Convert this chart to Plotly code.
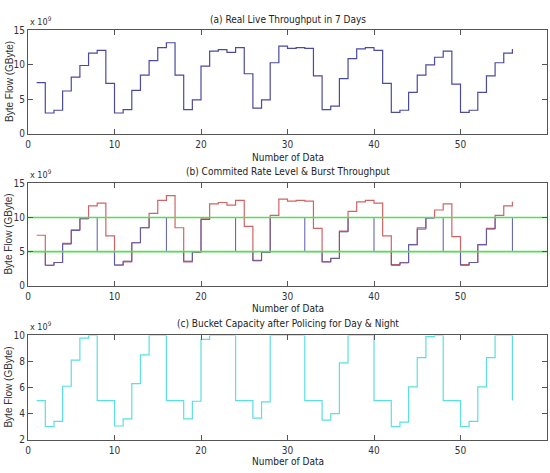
import plotly.graph_objects as go
from plotly.subplots import make_subplots

# Data (values in units of 1e9 bytes)
x_index = list(range(1, 57))
throughput = [7.4, 3.0, 3.4, 6.2, 8.2, 9.9, 11.7, 12.1, 7.3, 3.0,
              3.5, 6.3, 8.5, 10.6, 12.5, 13.2, 8.5, 3.5, 4.9, 9.8,
              12.0, 12.2, 11.8, 12.5, 8.7, 3.7, 4.9, 10.3, 12.7, 12.4,
              12.5, 12.4, 8.4, 3.5, 4.0, 8.0, 10.9, 12.3, 12.5, 12.1,
              7.3, 3.1, 3.4, 6.0, 8.5, 10.0, 11.1, 12.0, 7.2, 3.1,
              3.4, 6.0, 8.4, 10.3, 11.7, 12.3]
bucket = [5.0, 3.0, 3.4, 6.1, 8.1, 9.8, 10, 5, 5, 3.05,
          3.6, 6.3, 8.5, 10, 10, 5, 5, 3.6, 4.95, 9.7,
          10, 10, 10, 5, 5, 3.65, 4.9, 10, 10, 10,
          10, 5, 5, 3.5, 4.0, 7.9, 10, 10, 10, 5,
          5, 3.0, 3.35, 6.05, 8.3, 9.9, 10, 5, 5, 3.0,
          3.4, 6.05, 8.3, 10, 10, 5]
burst_level = 10
committed_level = 5
level_x = [0, 60]

titles = ["(a) Real Live Throughput in 7 Days",
          "(b) Commited Rate Level & Burst Throughput",
          "(c) Bucket Capacity after Policing for Day & Night"]
xlabel = "Number of Data"
ylabel = "Byte Flow (GByte)"

BLUE = "#4a4a9e"
BLUE_B = "#5a5aa8"
RED = "#d06464"
GREEN = "#55dd55"
CYAN = "#5cdfdf"

fig = make_subplots(rows=3, cols=1)

# (a)
fig.add_trace(go.Scatter(x=x_index, y=throughput, mode="lines", line_shape="hv",
                         line=dict(color=BLUE, width=1.2)), row=1, col=1)
# (b)
fig.add_trace(go.Scatter(x=x_index, y=throughput, mode="lines", line_shape="hv",
                         line=dict(color=RED, width=1.2)), row=2, col=1)
fig.add_trace(go.Scatter(x=x_index, y=bucket, mode="lines", line_shape="hv",
                         line=dict(color=BLUE_B, width=1.0)), row=2, col=1)
for lv in [burst_level, committed_level]:
    fig.add_trace(go.Scatter(x=level_x, y=[lv, lv], mode="lines",
                             line=dict(color=GREEN, width=1.6)), row=2, col=1)
# (c)
fig.add_trace(go.Scatter(x=x_index, y=bucket, mode="lines", line_shape="hv",
                         line=dict(color=CYAN, width=1.2)), row=3, col=1)

H = 473.0
W_PLOT = 550 - 28 - 3
panels = [(25, 131), (182, 287), (338, 445)]
title_y = [14, 170, 326]
xlabel_y = [155, 310, 467]
yranges = [[0, 15], [0, 15], [2, 10]]
ydticks = [5, 5, 2]

narrow = "Liberation Sans Narrow, DejaVu Sans Condensed, Arial Narrow, sans-serif"
tickfont = dict(family=narrow, size=10, color="#333333")

annotations = []
for i, (top, bot) in enumerate(panels):
    n = i + 1
    axis_common = dict(showline=True, linecolor="#555555", linewidth=1, mirror="allticks",
                       ticks="inside", ticklen=5, tickcolor="#555555", showgrid=False,
                       zeroline=False, tickfont=tickfont, layer="above traces")
    fig.update_xaxes(range=[0, 60], dtick=10, tick0=0, row=n, col=1,
                     ticklabelstandoff=1, **axis_common)
    fig.update_yaxes(range=yranges[i], dtick=ydticks[i], tick0=0, row=n, col=1,
                     ticklabelstandoff=0,
                     domain=[(H - bot) / H, (H - top) / H], **axis_common)
    annotations.append(dict(text=titles[i], x=0.5, y=(H - title_y[i]) / H, xref="paper", yref="paper",
                            showarrow=False, xanchor="center", yanchor="middle",
                            font=dict(family=narrow, size=10, color="#222222")))
    annotations.append(dict(text=xlabel, x=0.5, y=(H - xlabel_y[i]) / H, xref="paper", yref="paper",
                            showarrow=False, xanchor="center", yanchor="middle",
                            font=dict(family=narrow, size=10, color="#222222")))
    annotations.append(dict(text=ylabel, x=(9 - 28) / W_PLOT, y=(H - (top + bot) / 2) / H,
                            xref="paper", yref="paper", textangle=-90, showarrow=False,
                            xanchor="center", yanchor="middle",
                            font=dict(family="Liberation Sans, Arial, sans-serif", size=10, color="#333333")))
    annotations.append(dict(text="x 10<sup>9</sup>", x=(28 - 28) / W_PLOT, y=(H - top + 1) / H,
                            xref="paper", yref="paper", showarrow=False,
                            xanchor="left", yanchor="bottom",
                            font=dict(family=narrow, size=9, color="#333333")))

fig.update_layout(width=550, height=473, margin=dict(l=28, r=3, t=0, b=0),
                  paper_bgcolor="white", plot_bgcolor="white", showlegend=False,
                  annotations=annotations)

fig.write_html("out.html", config={"displayModeBar": False},
               post_script="document.body.style.margin='0';")
